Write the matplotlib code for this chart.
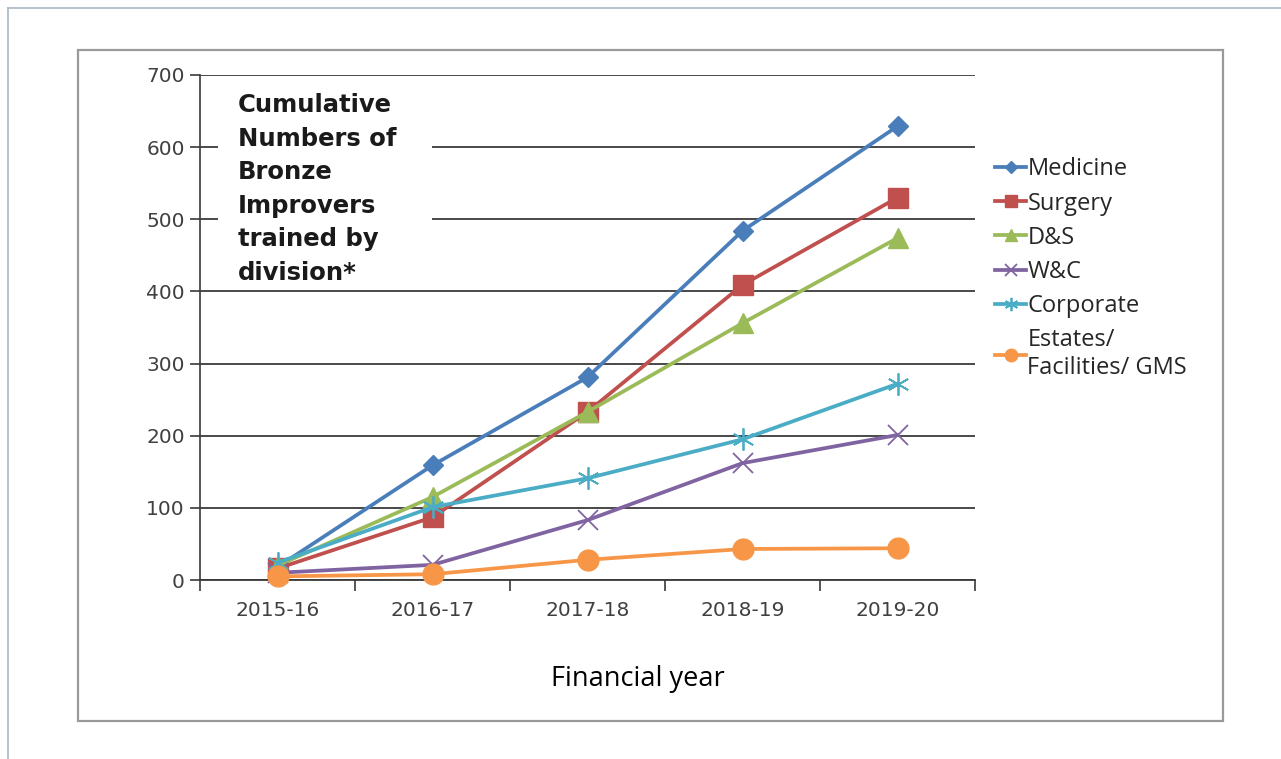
import numpy as np
import matplotlib.pyplot as plt
from matplotlib.lines import Line2D

plt.rcParams['font.family'] = ['Open Sans', 'DejaVu Sans']

years = ['2015-16', '2016-17', '2017-18', '2018-19', '2019-20']
medicine = [18, 159, 281, 484, 629]
surgery = [16, 87, 233, 409, 530]
d_and_s = [20, 115, 233, 356, 474]
w_and_c = [10, 21, 83, 162, 201]
corporate = [24, 101, 141, 195, 272]
estates = [5, 8, 28, 43, 44]

series = [
    ('Medicine', medicine, '#4a7ebb', 'D', 10, 1),
    ('Surgery', surgery, '#c0504d', 's', 14, 1),
    ('D&S', d_and_s, '#9bbb59', '^', 15, 1),
    ('W&C', w_and_c, '#8064a2', 'x', 15, 1.3),
    ('Corporate', corporate, '#4bacc6', (6, 2, 0), 16, 1.3),
    ('Estates/\nFacilities/ GMS', estates, '#f79646', 'o', 15, 1),
]

W, H = 1281, 759
fig = plt.figure(figsize=(W / 100, H / 100), dpi=100)

# outer page border and chart frame
fig.add_artist(Line2D([8 / W, 8 / W], [0, 1 - 8 / H], color='#a9b8c6', lw=1.2))
fig.add_artist(Line2D([8 / W, 1], [1 - 8 / H, 1 - 8 / H], color='#a9b8c6', lw=1.2))
fig.add_artist(plt.Rectangle((78 / W, 1 - 721 / H), (1223 - 78) / W, (721 - 50) / H,
                             fill=False, edgecolor='#9a9a9a', lw=1.6))

ax = fig.add_axes([200 / W, 1 - 580 / H, 775 / W, 505 / H])
x = np.arange(len(years))

for name, vals, col, mk, ms, mew in series:
    ax.plot(x, vals, color=col, lw=2.7, marker=mk, markersize=ms,
            markeredgewidth=mew, markeredgecolor=col, label=name,
            clip_on=False, zorder=3)

ax.set_xlim(-0.5, len(years) - 0.5)
ax.set_ylim(0, 700)
ax.set_yticks(range(0, 701, 100))
ax.yaxis.grid(True, color='#3a3a3a', lw=1.3)
ax.set_axisbelow(True)

ax.set_xticks(np.arange(-0.5, len(years), 1))
ax.set_xticklabels([])
ax.set_xticks(x, minor=True)
ax.set_xticklabels(years, minor=True)
ax.tick_params(axis='x', which='major', length=8, width=1.2, color='#3a3a3a', direction='out')
ax.tick_params(axis='x', which='minor', length=0, pad=15, labelsize=14.5, labelcolor='#404040')
ax.tick_params(axis='y', length=7, width=1.2, color='#3a3a3a', labelsize=14.5,
               labelcolor='#404040', pad=4)
for lbl in ax.get_xticklabels(minor=True) + ax.get_yticklabels():
    lbl.set_family('DejaVu Sans')

for s in ['top', 'right']:
    ax.spines[s].set_visible(False)
ax.spines['left'].set_color('#3a3a3a')
ax.spines['left'].set_linewidth(1.2)
ax.spines['bottom'].set_color('#3a3a3a')
ax.spines['bottom'].set_linewidth(1.3)

fig.text(638 / W, 1 - 679 / H, 'Financial year', ha='center', va='center', fontsize=19.5)

# white panel behind the in-chart title
fig.add_artist(plt.Rectangle((218 / W, 1 - 287 / H), 214 / W, 205 / H,
                             facecolor='white', edgecolor='none', zorder=1))
fig.text(238 / W, 1 - 93 / H,
         'Cumulative\nNumbers of\nBronze\nImprovers\ntrained by\ndivision*',
         ha='left', va='top', fontsize=17.5, fontweight='bold', linespacing=1.5,
         color='#1a1a1a', family='DejaVu Sans', zorder=2)

handles, labels = ax.get_legend_handles_labels()
leg = fig.legend(handles, labels, loc='upper left', bbox_to_anchor=(986 / W, 1 - 148 / H),
                 frameon=False, fontsize=17, handlelength=1.3, handletextpad=0.05,
                 labelspacing=0.43, markerscale=0.6, borderaxespad=0)
for t in leg.get_texts():
    t.set_color('#262626')

fig.savefig('out.png', dpi=100)
